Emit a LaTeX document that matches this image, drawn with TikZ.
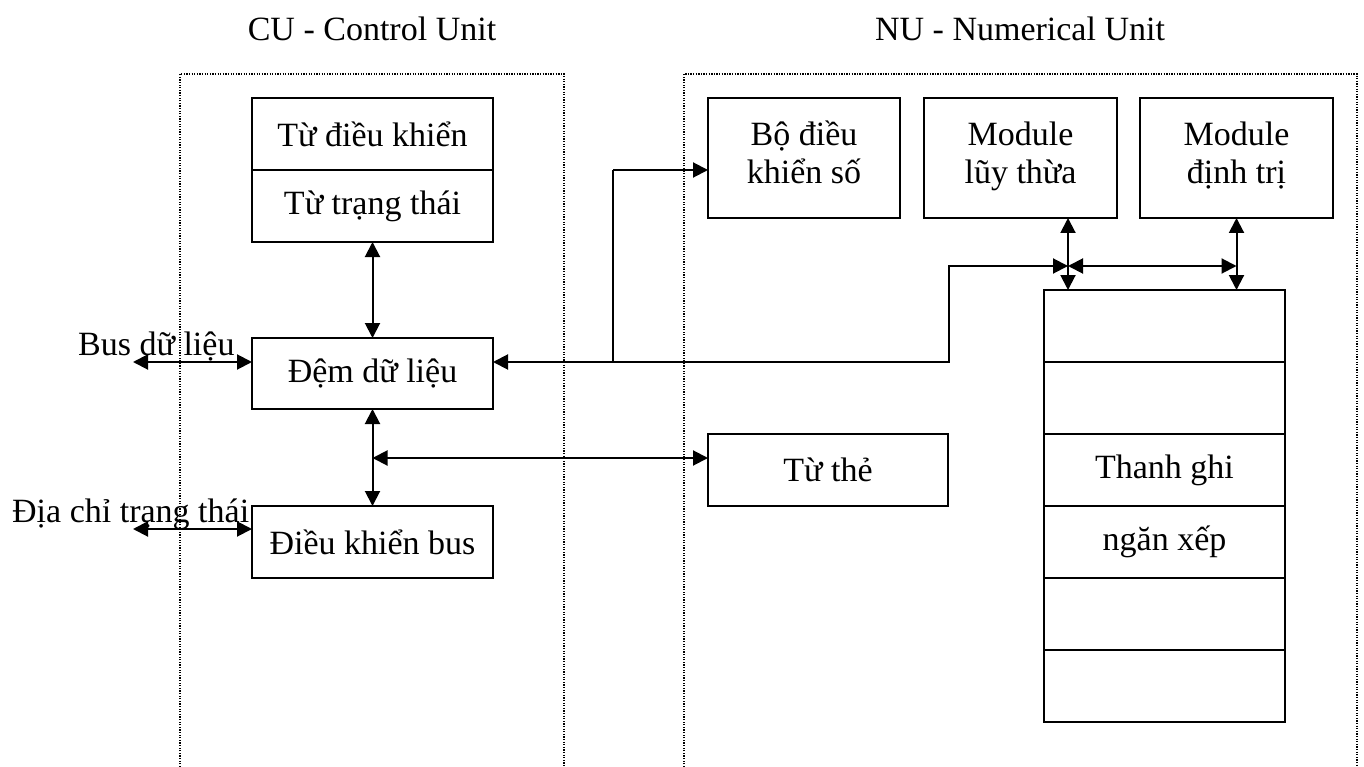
\documentclass[tikz,border=0pt]{standalone}
\usepackage{fontspec}
\setmainfont{Liberation Serif}
\usetikzlibrary{arrows.meta}
\tikzset{
  txt/.style={font=\fontsize{34}{36}\selectfont, inner sep=0pt},
  box/.style={draw, line width=2pt, inner sep=0pt, outer sep=0pt, align=center,
              font=\fontsize{34}{36}\selectfont},
  conn/.style={line width=2pt, {Triangle[length=15pt,width=15pt]}-{Triangle[length=15pt,width=15pt]}},
  conn1/.style={line width=2pt, -{Triangle[length=15pt,width=15pt]}},
  unitframe/.style={line width=1.3pt, dash pattern=on 1.3pt off 1.3pt}
}
\begin{document}
\begin{tikzpicture}[x=1pt,y=-1pt]
\useasboundingbox (0,0) rectangle (1364,767);
% unit frames
\draw[unitframe] (180,767) -- (180,74) -- (564,74) -- (564,767);
\draw[unitframe] (684,767) -- (684,74) -- (1357,74) -- (1357,767);
% titles
\node[txt, anchor=base] (cut) at (372,41) {CU - Control Unit};
\node[txt, anchor=base] (nut) at (1020,41) {NU - Numerical Unit};
% CU boxes
\node[box, minimum width=241pt, minimum height=72pt] (tdk) at (372.5,134) {Từ điều khiển};
\node[box, minimum width=241pt, minimum height=72pt] (ttt) at (372.5,206) {Từ trạng thái};
\node[box, minimum width=241pt, minimum height=71pt] (dem) at (372.5,373.5) {Đệm dữ liệu};
\node[box, minimum width=241pt, minimum height=72pt] (dkb) at (372.5,542) {Điều khiển bus};
% NU boxes
\node[box, minimum width=192pt, minimum height=120pt] (bo) at (804,158) {};
\node[box, minimum width=193pt, minimum height=120pt] (ml) at (1020.5,158) {};
\node[box, minimum width=193pt, minimum height=120pt] (md) at (1236.5,158) {};
\node[txt, anchor=base] (bo1) at (804,146) {Bộ điều};
\node[txt, anchor=base] (bo2) at (804,184) {khiển số};
\node[txt, anchor=base] (ml1) at (1020.5,146) {Module};
\node[txt, anchor=base] (ml2) at (1020.5,184) {lũy thừa};
\node[txt, anchor=base] (md1) at (1236.5,146) {Module};
\node[txt, anchor=base] (md2) at (1236.5,184) {định trị};
\node[box, minimum width=240pt, minimum height=72pt] (tthe) at (828,470) {Từ thẻ};
% stack
\node[box, minimum width=241pt, minimum height=72pt] (s1) at (1164.5,326) {};
\node[box, minimum width=241pt, minimum height=72pt] (s2) at (1164.5,398) {};
\node[box, minimum width=241pt, minimum height=72pt] (s3) at (1164.5,470) {Thanh ghi};
\node[box, minimum width=241pt, minimum height=72pt] (s4) at (1164.5,542) {ngăn xếp};
\node[box, minimum width=241pt, minimum height=72pt] (s5) at (1164.5,614) {};
\node[box, minimum width=241pt, minimum height=72pt] (s6) at (1164.5,686) {};
% side labels
\node[txt, anchor=base west] (busl) at (78,355) {Bus dữ liệu};
\node[txt, anchor=base west] (adl) at (12,522) {Địa chỉ trạng thái};
% coordinates
\coordinate (busE) at (133,362);
\coordinate (adE) at (133,529);
\coordinate (j1) at (372.5,458);
\coordinate (b1) at (949,362);
\coordinate (b2) at (949,266);
\coordinate (j2) at (1068,266);
\coordinate (br) at (613,362);
\coordinate (br2) at (613,170);
% connectors
\draw[conn] (ttt.south) -- (dem.north);
\draw[conn] (dem.south) -- (dkb.north);
\draw[conn] (j1) -- (j1 -| tthe.west);
\draw[conn] (busE) -- (busE -| dem.west);
\draw[conn] (adE) -- (adE -| dkb.west);
\draw[conn] (dem.east |- b1) -- (b1) -- (b2) -- (j2);
\draw[line width=2pt] (br) -- (br2);
\draw[conn1] (br2) -- (br2 -| bo.west);
\draw[conn] (ml.south -| j2) -- (s1.north -| j2);
\draw[conn] (j2) -- (j2 -| md.south);
\draw[conn] (md.south) -- (md.south |- s1.north);
\end{tikzpicture}
\end{document}
